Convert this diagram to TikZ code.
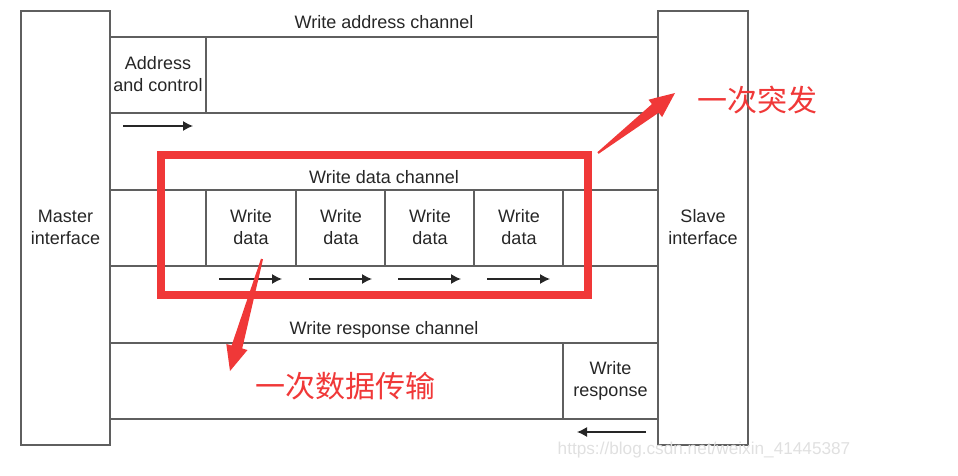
\documentclass[tikz,border=0pt]{standalone}
\usepackage{fontspec}
\setmainfont{Liberation Sans}
\newfontfamily\cjk{Noto Sans CJK SC}
\usetikzlibrary{arrows.meta}
\definecolor{markred}{RGB}{240,56,56}
\definecolor{frame}{RGB}{95,95,95}

\begin{document}
\begin{tikzpicture}[x=0.5pt, y=-0.5pt,
  wire/.style={draw=frame, line width=0.65pt},
  lbl/.style={font=\fontsize{9}{11}\selectfont, text=black!85, align=center, inner sep=0pt},
  flow/.style={-{Latex[length=5pt,width=5pt]}, line width=0.65pt, black!85},
  note/.style={font=\cjk\fontsize{15}{15}\selectfont, text=markred, inner sep=0pt}]
\useasboundingbox (0,0) rectangle (958,476);
% interfaces:
\draw[wire] (21,11) rectangle (110,445);
\draw[wire] (658,11) rectangle (748,445);
\node[lbl] (master) at (65.5,227) {Master\\interface};
\node[lbl] (slave) at (703,227) {Slave\\interface};
% write address channel:
\node[lbl] (awname) at (384,22) {Write address channel};
\draw[wire] (110,37) -- (658,37) (110,113) -- (658,113) (206,37) -- (206,113);
\node[lbl] (aw) at (158,74) {Address\\and control};
\coordinate (awfrom) at (123,126); \coordinate (awto) at (193,126);
\draw[flow] (awfrom) -- (awto);
% write data channel:
\node[lbl] (wname) at (384,177) {Write data channel};
\draw[wire] (110,190) -- (658,190) (110,266) -- (658,266);
\foreach \x in {206,296,385,474,563} \draw[wire] (\x,190) -- (\x,266);
\foreach \x/\n in {206/1,296/2,385/3,474/4} {
  \node[lbl] (w\n) at (\x+45,227) {Write\\data};
  \coordinate (wfrom\n) at (\x+13,279); \coordinate (wto\n) at (\x+76,279);
  \draw[flow] (wfrom\n) -- (wto\n);
}
% write response channel:
\node[lbl] (bname) at (384,330) {Write response channel};
\draw[wire] (110,343) -- (658,343) (110,419) -- (658,419) (563,343) -- (563,419);
\node[lbl] (b) at (610.5,381) {Write\\response};
\coordinate (bfrom) at (646,432); \coordinate (bto) at (577,432);
\draw[flow] (bfrom) -- (bto);
% red marks:
\draw[markred, line width=3.6pt] (161,155) rectangle (588,295);
\fill[markred] (597.4,152.2) -- (651.9,104.1) -- (648.5,99.7) -- (675,93)
  -- (662.1,117.1) -- (658.7,112.7) -- (598.6,153.8) -- cycle;
\node[note] (burst) at (757.5,100) {一次突发};
\fill[markred] (261,258.7) -- (231.6,345.5) -- (226.3,344) -- (230,371)
  -- (247.5,350) -- (242.2,348.5) -- (263,259.3) -- cycle;
\node[note] (beat) at (345.5,386) {一次数据传输};
% watermark:
\node[lbl, text=black!12, font=\fontsize{8.6}{10}\selectfont] (wm) at (704,450) {https://blog.csdn.net/weixin\_41445387};
\end{tikzpicture}
\end{document}
